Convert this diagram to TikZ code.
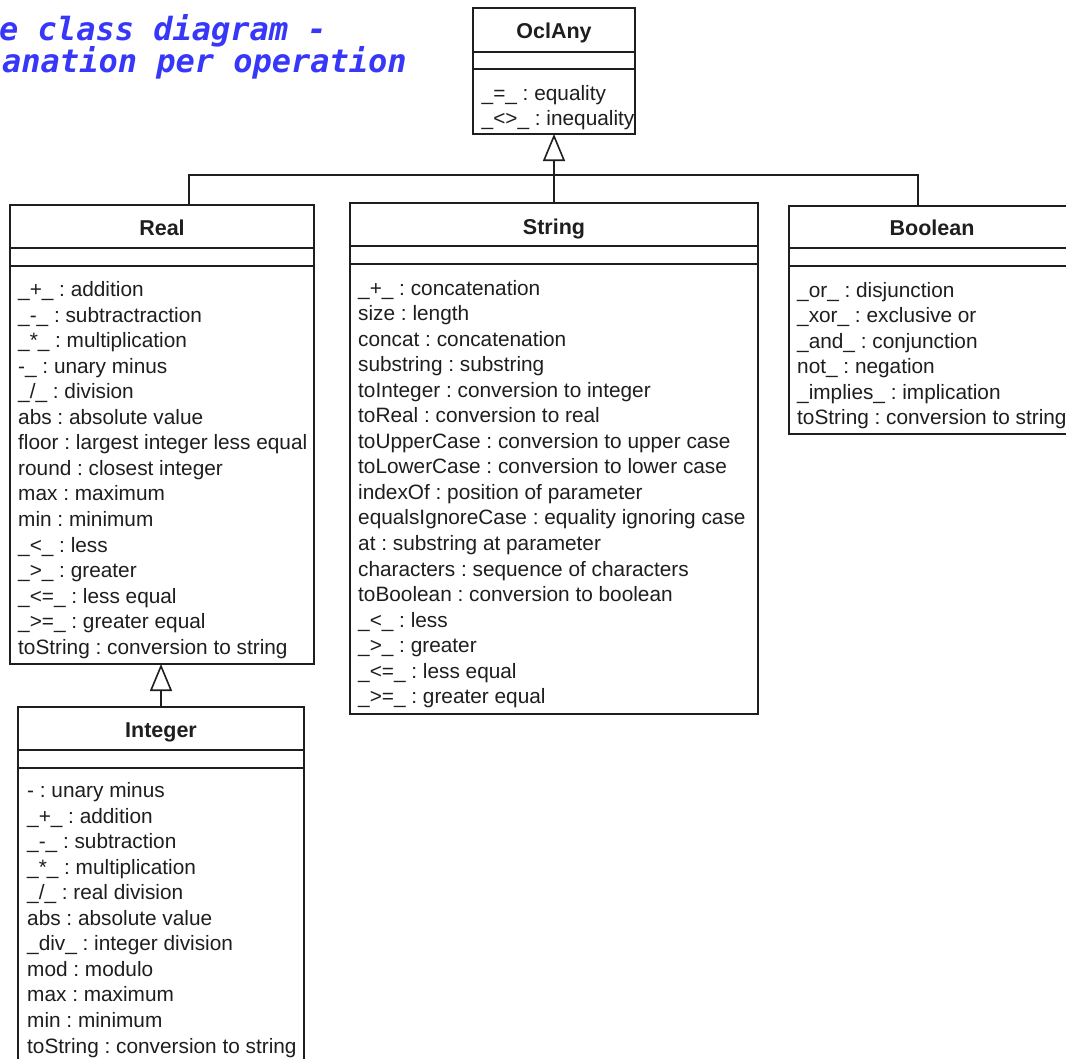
\documentclass[tikz,border=0pt]{standalone}
\usepackage{fontspec}
\setmainfont{Liberation Sans}
\newfontfamily\titlefont{DejaVu Sans Mono}
\usetikzlibrary{arrows.meta}
\definecolor{titleblue}{RGB}{55,55,250}
\definecolor{ink}{RGB}{30,30,30}
\frenchspacing
\tikzset{
 box/.style={draw=ink, line width=1.6pt, fill=white, anchor=north west, inner sep=0pt, outer sep=0pt},
 sep/.style={draw=ink, line width=1.6pt},
 cname/.style={anchor=base, inner sep=0pt, font=\bfseries\fontsize{21.5}{25}\selectfont, text=ink},
 row/.style={anchor=base west, inner sep=0pt, font=\frenchspacing\fontsize{20.8}{25}\selectfont, text=ink},
 link/.style={draw=ink, line width=1.6pt},
 gen/.style={link, -{Triangle[open, length=27pt, width=22pt, fill=white]}},
 ttl/.style={anchor=base west, inner sep=0pt, font=\titlefont\bfseries\itshape\fontsize{32}{36}\selectfont, text=titleblue},
}
\newcommand\umlbox[7]{%
 \node[box, minimum width=#4pt, minimum height=#5pt] (#1) at (#2,#3) {};
 \draw[sep] ([yshift=-#6pt]#1.north west) -- ([yshift=-#6pt]#1.north east);
 \draw[sep] ([yshift=-#7pt]#1.north west) -- ([yshift=-#7pt]#1.north east);
}
\newcommand\rowlist[4]{\foreach \t [count=\i] in {#4} {\node[row] (#1-\i) at (#2,{#3+(\i-1)*25.55}) {\t};}}
\begin{document}
\begin{tikzpicture}[x=1pt,y=-1pt]
\useasboundingbox (0,0) rectangle (1066,1058);
\clip (0,0) rectangle (1066,1058);
\fill[white] (0,0) rectangle (1066,1058);

% title
\node[ttl] (t1) at (-1,40) {e class diagram -};
\node[ttl] (t2) at (2,72) {anation per operation};

% boxes
\umlbox{oclany}{473}{8}{162}{126}{44}{61}
\umlbox{real}{10}{205}{304}{459}{43}{61}
\umlbox{string}{350}{203}{408}{511}{43}{61}
\umlbox{boolean}{789}{206}{286}{228}{42}{60}
\umlbox{integer}{18}{707}{286}{370}{43}{61}

% names
\node[cname] (oclany-name) at (554,38.5) {OclAny};
\node[cname] (real-name) at (162,235.5) {Real};
\node[cname] (string-name) at (554,234) {String};
\node[cname] (boolean-name) at (932,235.5) {Boolean};
\node[cname] (integer-name) at (161,737.5) {Integer};

% operations
\rowlist{oa}{481.5}{100}{\_=\_ : equality, \_<>\_ : inequality}
\rowlist{re}{18}{296.5}{\_+\_ : addition, \_-\_ : subtractraction, \_*\_ : multiplication, -\_ : unary minus, \_/\_ : division, abs : absolute value, floor : largest integer less equal, round : closest integer, max : maximum, min : minimum, \_<\_ : less, \_>\_ : greater, \_<=\_ : less equal, \_>=\_ : greater equal, toString : conversion to string}
\rowlist{st}{358}{295}{\_+\_ : concatenation, size : length, concat : concatenation, substring : substring, toInteger : conversion to integer, toReal : conversion to real, toUpperCase : conversion to upper case, toLowerCase : conversion to lower case, indexOf : position of parameter, equalsIgnoreCase : equality ignoring case, at : substring at parameter, characters : sequence of characters, toBoolean : conversion to boolean, \_<\_ : less, \_>\_ : greater, \_<=\_ : less equal, \_>=\_ : greater equal}
\rowlist{bo}{797}{297}{\_or\_ : disjunction, \_xor\_ : exclusive or, \_and\_ : conjunction, not\_ : negation, \_implies\_ : implication, toString : conversion to string}
\rowlist{in}{27}{797.5}{- : unary minus, \_+\_ : addition, \_-\_ : subtraction, \_*\_ : multiplication, \_/\_ : real division, abs : absolute value, \_div\_ : integer division, mod : modulo, max : maximum, min : minimum, toString : conversion to string}

% generalizations
\coordinate (rj) at (189,175);
\coordinate (bj) at (918,175);
\draw[link] (real.north -| rj) -- (rj) -- (bj) -- (boolean.north -| bj);
\draw[gen] (oclany.south |- string.north) -- (oclany.south);
\draw[gen] (integer.north) -- (integer.north |- real.south);
\end{tikzpicture}
\end{document}
